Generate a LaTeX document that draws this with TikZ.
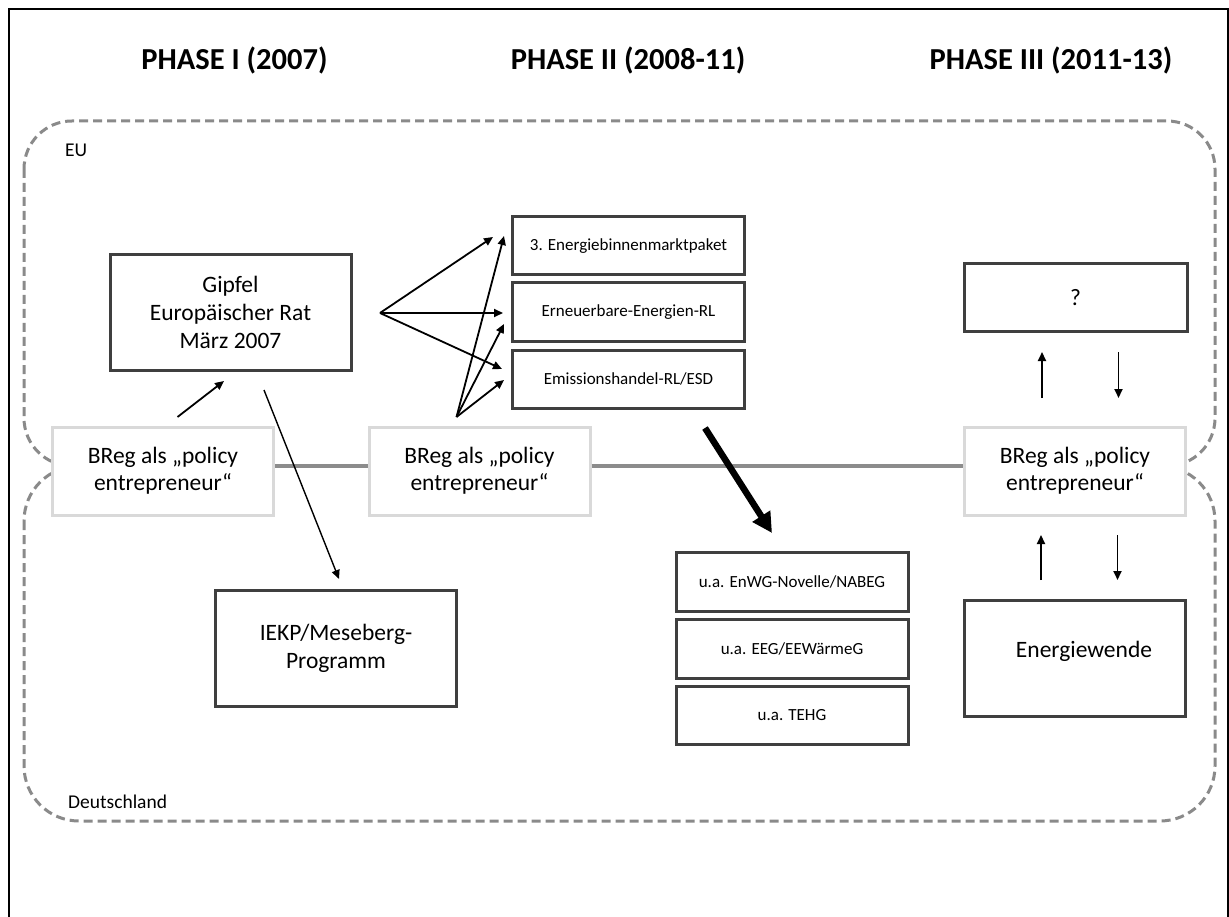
\documentclass[tikz,border=0pt]{standalone}
\usepackage{fontspec}
\setmainfont{Carlito}
\usetikzlibrary{arrows.meta}
\definecolor{boxgray}{HTML}{3F3F3F}
\definecolor{lightgray}{HTML}{D9D9D9}
\definecolor{dashgray}{HTML}{8A8A8A}
\definecolor{linegray}{HTML}{8C8C8C}
\tikzset{
  darkbox/.style={draw=boxgray, line width=3pt, fill=white, inner sep=0pt, align=center},
  bigtext/.style={font=\fontsize{23.5}{28}\selectfont},
  smalltext/.style={font=\fontsize{17}{20}\selectfont},
  breg/.style={draw=lightgray, line width=3pt, fill=white, inner sep=0pt, align=center,
    minimum width=221pt, minimum height=88pt, font=\fontsize{23.5}{27}\selectfont},
  region/.style={draw=dashgray, line width=3pt, dash pattern=on 9pt off 5pt},
  thinarrow/.style={line width=1.8pt, -{Triangle[length=9pt,width=8pt]}},
  title/.style={font=\fontsize{30.5}{35}\selectfont\bfseries},
  regionlabel/.style={font=\fontsize{19.5}{23}\selectfont, inner sep=0pt}
}
\begin{document}
\begin{tikzpicture}[x=1pt,y=-1pt]
\useasboundingbox (0,0) rectangle (1229,917);
% frame
\draw[line width=2pt] (9,930) -- (9,9) -- (1228,9) -- (1228,930);
% titles
\node[title] (t1) at (234.5,60) {PHASE I (2007)};
\node[title] (t2) at (628,60) {PHASE II (2008-11)};
\node[title] (t3) at (1051,60) {PHASE III (2011-13)};
% regions
\draw[region, rounded corners=48pt] (24,121) rectangle (1215,466);
\draw[region, rounded corners=55pt] (24,466) rectangle (1215,821);
\node[regionlabel, anchor=west] (eu) at (65,150) {EU};
\node[regionlabel, anchor=west] (de) at (68,802) {Deutschland};
% BReg boxes
\node[breg] (b1) at (163,471) {BReg als „policy\\entrepreneur“};
\node[breg] (b2) at (479.5,471) {BReg als „policy\\entrepreneur“};
\node[breg] (b3) at (1075,471) {BReg als „policy\\entrepreneur“};
\draw[linegray, line width=3.2pt] ([yshift=5pt]b1.east) -- ([yshift=5pt]b2.west);
\draw[linegray, line width=3.2pt] ([yshift=5pt]b2.east) -- ([yshift=5pt]b3.west);
% EU boxes
\node[darkbox, bigtext, minimum width=241pt, minimum height=115pt] (gipfel) at (230.5,312.5) {Gipfel\\Europäischer Rat\\März 2007};
\node[darkbox, smalltext, minimum width=232pt, minimum height=58pt] (e1) at (628.5,246) {3. Energiebinnenmarktpaket};
\node[darkbox, smalltext, minimum width=232pt, minimum height=59pt] (e2) at (628.5,312.5) {Erneuerbare-Energien-RL};
\node[darkbox, smalltext, minimum width=232pt, minimum height=58pt] (e3) at (628.5,379) {Emissionshandel-RL/ESD};
\node[darkbox, bigtext, minimum width=223pt, minimum height=68pt] (q) at (1075.5,298) {?};
% Deutschland boxes
\node[darkbox, bigtext, minimum width=241pt, minimum height=116pt] (iekp) at (336,648) {IEKP/Meseberg-\\Programm};
\node[darkbox, smalltext, minimum width=232pt, minimum height=59pt] (d1) at (792,581.5) {u.a. EnWG-Novelle/NABEG};
\node[darkbox, smalltext, minimum width=232pt, minimum height=59pt] (d2) at (792,648.5) {u.a. EEG/EEWärmeG};
\node[darkbox, smalltext, minimum width=232pt, minimum height=58pt] (d3) at (792,715) {u.a. TEHG};
\node[darkbox, minimum width=221pt, minimum height=116pt] (ew) at (1074.5,658) {};
\node[bigtext, inner sep=0pt] (ewt) at (1084,651) {Energiewende};
% arrow coordinates
\coordinate (fg) at (380,313);
\coordinate (fg1) at (493,237);
\coordinate (fg2) at (503,313);
\coordinate (fg3) at (502,369);
\coordinate (fb) at (456.5,417);
\coordinate (fb1) at (504,236);
\coordinate (fb2) at (504,324);
\coordinate (fb3) at (504,380);
\coordinate (ba) at (177.5,417);
\coordinate (bb) at (224,381);
\coordinate (ga) at (264,390);
\coordinate (gb) at (339,579);
\coordinate (ta) at (705,428);
\coordinate (tb) at (772,533);
\coordinate (u1a) at (1042,398);
\coordinate (u1b) at (1042,352);
\coordinate (d1a) at (1118.5,352);
\coordinate (d1b) at (1118.5,398);
\coordinate (u2a) at (1041,580);
\coordinate (u2b) at (1041,535);
\coordinate (d2a) at (1117.5,535);
\coordinate (d2b) at (1117.5,580);
% arrows
\draw[thinarrow] (fg) -- (fg1);
\draw[thinarrow] (fg) -- (fg2);
\draw[thinarrow] (fg) -- (fg3);
\draw[thinarrow] (fb) -- (fb1);
\draw[thinarrow] (fb) -- (fb2);
\draw[thinarrow] (fb) -- (fb3);
\draw[thinarrow] (ba) -- (bb);
\draw[thinarrow, line width=1.4pt] (ga) -- (gb);
\draw[line width=6.5pt, -{Triangle[length=20pt,width=20pt]}] (ta) -- (tb);
\draw[thinarrow] (u1a) -- (u1b);
\draw[thinarrow] (d1a) -- (d1b);
\draw[thinarrow] (u2a) -- (u2b);
\draw[thinarrow] (d2a) -- (d2b);
\end{tikzpicture}
\end{document}
